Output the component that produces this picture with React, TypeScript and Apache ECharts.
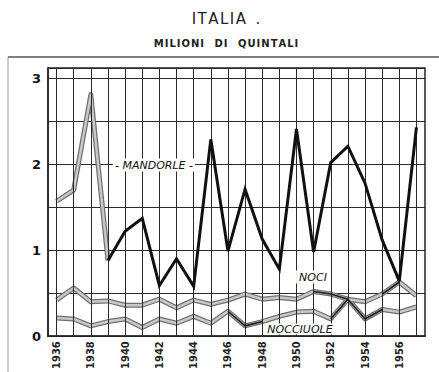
import React, { useEffect, useRef } from "react";
import * as echarts from "echarts";

const years = [
  "1936", "1937", "1938", "1939", "1940", "1941", "1942", "1943", "1944", "1945", "1946",
  "1947", "1948", "1949", "1950", "1951", "1952", "1953", "1954", "1955", "1956", "1957",
];
// milioni di quintali
const mandorle = [1.57, 1.7, 2.81, 0.88, 1.22, 1.37, 0.59, 0.9, 0.58, 2.29, 0.99, 1.71, 1.13, 0.78, 2.41, 0.98, 2.02, 2.21, 1.78, 1.12, 0.64, 2.43];
const noci = [0.42, 0.56, 0.4, 0.41, 0.36, 0.36, 0.43, 0.33, 0.42, 0.37, 0.42, 0.49, 0.43, 0.45, 0.43, 0.52, 0.49, 0.43, 0.4, 0.49, 0.63, 0.47];
const nocciole = [0.21, 0.2, 0.12, 0.17, 0.2, 0.1, 0.2, 0.15, 0.23, 0.15, 0.29, 0.12, 0.17, 0.23, 0.28, 0.29, 0.2, 0.43, 0.2, 0.31, 0.28, 0.34];

// year index ranges drawn grey (mandorle) or with black overlay (noci / nocciole)
const mandorleGreyRange = [0, 3];
const nociBlackRanges = [[15, 17], [19, 20]];
const noccioleBlackRanges = [[10, 12], [16, 19]];

const yTicks = [0, 1, 2, 3];

const pick = (arr: number[], ranges: number[][]) =>
  arr.map((v, i) => (ranges.some(([a, b]) => i >= a && i <= b) ? v : null));

const spaced = (s: string) => s.split("").join("\u200A");

export default function App() {
  const ref = useRef<HTMLDivElement>(null);
  useEffect(() => {
    if (!ref.current) return;
    const chart = echarts.init(ref.current, null, { renderer: "svg" });
    const font = "DejaVu Sans";
    const greyOuter = (name: string, data: (number | null)[]) => ({
      name,
      type: "line",
      data,
      symbol: "none",
      z: 3,
      connectNulls: false,
      lineStyle: { color: "#707070", width: 5, join: "round" },
    });
    const greyInner = (name: string, data: (number | null)[]) => ({
      name,
      type: "line",
      data,
      symbol: "none",
      z: 4,
      connectNulls: false,
      lineStyle: { color: "#c8c8c8", width: 2.5, join: "round" },
    });
    const blackThin = (name: string, data: (number | null)[]) => ({
      name,
      type: "line",
      data,
      symbol: "none",
      z: 5,
      connectNulls: false,
      lineStyle: { color: "#1a1a1a", width: 1.6 },
    });
    const mGrey = pick(mandorle, [mandorleGreyRange]);
    const mBlack = mandorle.map((v, i) => (i >= mandorleGreyRange[1] ? v : null));

    chart.setOption({
      animation: false,
      backgroundColor: "#ffffff",
      grid: {
        left: 48,
        right: 14,
        top: 68,
        bottom: 35,
        show: true,
        borderColor: "#222",
        borderWidth: 1.5,
        backgroundColor: "transparent",
      },
      xAxis: {
        type: "category",
        data: years,
        boundaryGap: true,
        axisLine: { show: true, lineStyle: { color: "#222", width: 1.5 } },
        axisTick: { show: false },
        splitLine: { show: false },
        axisLabel: {
          interval: 1,
          rotate: 90,
          margin: 5,
          fontFamily: font,
          fontWeight: "bold",
          fontSize: 10,
          color: "#222",
        },
      },
      yAxis: {
        type: "value",
        min: 0,
        max: 3.12,
        interval: 0.5,
        axisLine: { show: true, lineStyle: { color: "#222", width: 1.5 } },
        axisTick: { show: false },
        splitLine: { show: true, lineStyle: { color: "#2a2a2a", width: 1 } },
        axisLabel: {
          margin: 7,
          fontFamily: font,
          fontWeight: "bold",
          fontSize: 13,
          color: "#111",
          showMaxLabel: false,
          formatter: (v: number) => (yTicks.includes(v) ? String(v) : ""),
        },
      },
      series: [
        {
          name: "grid",
          type: "line",
          data: [],
          z: 1,
          silent: true,
          markLine: {
            silent: true,
            symbol: "none",
            animation: false,
            label: { show: false },
            lineStyle: { color: "#2a2a2a", width: 1, type: "solid" },
            data: years.map((y) => ({ xAxis: y })),
          },
        },
        greyOuter("Noci", noci),
        greyInner("Noci ", noci),
        greyOuter("Nocciole", nocciole),
        greyInner("Nocciole ", nocciole),
        greyOuter("Mandorle (grigio)", mGrey),
        greyInner("Mandorle (grigio) ", mGrey),
        blackThin("Noci nero", pick(noci, nociBlackRanges)),
        blackThin("Nocciole nero", pick(nocciole, noccioleBlackRanges)),
        {
          name: "Mandorle",
          type: "line",
          data: mBlack,
          symbol: "none",
          z: 6,
          lineStyle: { color: "#111", width: 3, join: "miter" },
        },
      ],
      graphic: [
        { type: "line", shape: { x1: 8, y1: 57, x2: 439, y2: 57 }, style: { stroke: "#555", lineWidth: 1.5 } },
        { type: "line", shape: { x1: 8, y1: 57, x2: 8, y2: 372 }, style: { stroke: "#999", lineWidth: 1 } },
        {
          type: "text",
          x: 226,
          y: 19,
          style: { text: spaced("ITALIA") + "  .", fontFamily: font, fontSize: 15, fill: "#222", align: "center", verticalAlign: "middle" },
        },
        {
          type: "text",
          x: 226,
          y: 43,
          style: {
            text: spaced("MILIONI") + "   " + spaced("DI") + "   " + spaced("QUINTALI"),
            fontFamily: font,
            fontWeight: "bold",
            fontSize: 10,
            fill: "#222",
            align: "center",
            verticalAlign: "middle",
          },
        },
        {
          type: "text",
          x: 154,
          y: 165,
          z: 20,
          style: {
            text: "- MANDORLE -",
            fontFamily: font,
            fontStyle: "italic",
            fontSize: 11,
            fill: "#111",
            align: "center",
            verticalAlign: "middle",
            backgroundColor: "#fff",
            padding: [1, 2],
          },
        },
        {
          type: "text",
          x: 313,
          y: 277,
          z: 20,
          style: {
            text: "NOCI",
            fontFamily: font,
            fontStyle: "italic",
            fontSize: 11,
            fill: "#111",
            align: "center",
            verticalAlign: "middle",
            backgroundColor: "#fff",
            padding: [1, 3],
          },
        },
        {
          type: "text",
          x: 300,
          y: 329,
          z: 20,
          style: {
            text: "NOCCIUOLE",
            fontFamily: font,
            fontStyle: "italic",
            fontSize: 11,
            fill: "#111",
            align: "center",
            verticalAlign: "middle",
            backgroundColor: "#fff",
            padding: [0, 2],
          },
        },
      ],
    });
    return () => chart.dispose();
  }, []);
  return <div ref={ref} style={{ position: "fixed", left: 0, top: 0, width: 439, height: 372 }} />;
}
